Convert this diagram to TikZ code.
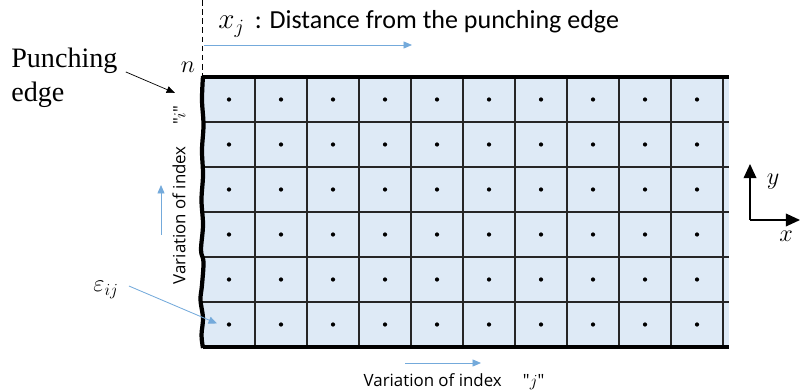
\documentclass[tikz,border=0pt]{standalone}
\usepackage{fontspec}
\setmainfont{Liberation Serif}
\newfontfamily\califont{Carlito}
\newfontfamily\opensans{Open Sans}
\usepackage{tikz}
\usetikzlibrary{arrows.meta, positioning, calc}
\definecolor{cellblue}{RGB}{222, 234, 246}
\definecolor{arrowblue}{RGB}{91, 155, 213}
\tikzset{
    gridline/.style={line width=1.6pt, black!85},
    rowline/.style={line width=1pt, black!85},
    border/.style={line width=2.2pt, black},
    cdot/.style={circle, fill=black, inner sep=0pt, minimum size=3pt},
    bluearr/.style={-{Triangle[length=6pt, width=5pt]}, arrowblue!85, line width=0.6pt},
    blackarr/.style={-{Triangle[length=6pt, width=5pt]}, black, line width=0.5pt},
    axisarr/.style={-{Triangle[length=10pt, width=9pt]}, black, line width=1pt},
    varlbl/.style={font=\opensans\fontsize{12}{14}\selectfont, inner sep=0pt},
    mathlbl/.style={font=\fontsize{18}{20}\selectfont, inner sep=0pt},
}

\begin{document}
\begin{tikzpicture}[x=0.025cm, y=-0.025cm]
    \useasboundingbox (0,0) rectangle (800,392);

    % Cells
    \fill[cellblue] (203,77) rectangle (729,347);
    \foreach \k in {1,...,10}
        \draw[gridline] (203+52*\k,77) -- (203+52*\k,347);
    \foreach \k in {1,...,5}
        \draw[rowline] (203,77+45*\k) -- (729,77+45*\k);
    \draw[border] (203,77) -- (729,77);
    \draw[border] (203,347) -- (729,347);

    % Punching edge (wavy)
    \draw[line width=3pt, black, line join=round]
        plot[smooth, tension=0.6] coordinates {(203,76) (202,100) (203.5,125) (202,150)
        (203,175) (201.5,200) (203,225) (201,250) (203.5,262) (202,285) (200.5,300)
        (203,318) (201.5,335) (203,348)};

    % Cell centres, i from bottom (1) to top (6)
    \foreach \i in {1,...,6}
        \foreach \j in {1,...,10}
            \node[cdot] (d-\i-\j) at (229+52*\j-52, 324.5-45*\i+45) {};

    % Distance from the punching edge
    \draw[dashed, dash pattern=on 4pt off 2.5pt, line width=0.7pt] (202,0) -- (202,77);
    \node[font=\califont\fontsize{18.5}{20}\selectfont, inner sep=0pt, anchor=base west]
        (dist) at (218,29) {{\fontsize{20}{22}\selectfont$x_j$} \,: Distance from the punching edge};
    \coordinate (dstart) at (204,45);
    \coordinate (dend) at (412,45);
    \draw[bluearr] (dstart) -- (dend);
    \node[mathlbl] (nlab) at (188,67) {$n$};

    % Punching edge label
    \node[font=\fontsize{20}{24}\selectfont, align=left, inner sep=0pt, anchor=north west]
        (punch) at (11,48) {Punching\\edge};
    \coordinate (edgept) at (175,93);
    \path (punch.east) ++(8,-6) coordinate (pstart);
    \draw[blackarr] (pstart) -- (edgept);

    % Index i
    \node[varlbl, rotate=90] (ivar) at (179,195) {Variation of index \quad "$i$"};
    \coordinate (istart) at (161,235);
    \coordinate (iend) at (161,185);
    \draw[bluearr] (istart) -- (iend);

    % Strain
    \node[mathlbl] (eps) at (106,290) {$\varepsilon_{ij}$};
    \path (eps.east) ++(10,-4) coordinate (estart);
    \draw[bluearr] (estart) -- ($(d-1-1)+(-12,-1)$);

    % Index j
    \coordinate (jstart) at (405,363);
    \coordinate (jend) at (481,363);
    \draw[bluearr] (jstart) -- (jend);
    \node[varlbl] (jvar) at (454,382) {Variation of index \quad "$j$"};

    % Axes
    \coordinate (o) at (750,220);
    \coordinate (ytip) at (750,164);
    \coordinate (xtip) at (800,220);
    \draw[axisarr] (o) -- (ytip);
    \draw[axisarr] (o) -- (xtip);
    \node[mathlbl] (ylab) at (773,182) {$y$};
    \node[mathlbl] (xlab) at (786,236) {$x$};
\end{tikzpicture}
\end{document}
